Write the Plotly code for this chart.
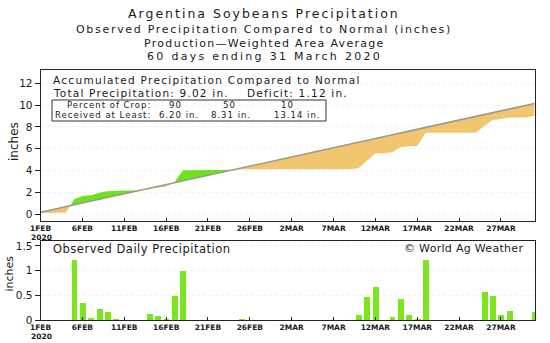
import plotly.graph_objects as go

W, H = 550, 343

# ---------------- data ----------------
days = list(range(60))  # 0 = 1 FEB 2020 ... 59 = 31 MAR 2020
tick_days = [0, 5, 10, 15, 20, 25, 30, 35, 40, 45, 50, 55]
tick_labels = ["1FEB", "6FEB", "11FEB", "16FEB", "21FEB", "26FEB",
               "2MAR", "7MAR", "12MAR", "17MAR", "22MAR", "27MAR"]
year_label = "2020"

normal_accum = [
    0.17, 0.34, 0.51, 0.68, 0.85, 1.02, 1.18, 1.35, 1.52, 1.69,
    1.86, 2.03, 2.20, 2.37, 2.54, 2.71, 2.87, 3.04, 3.21, 3.38,
    3.55, 3.72, 3.89, 4.06, 4.23, 4.40, 4.56, 4.73, 4.90, 5.07,
    5.24, 5.41, 5.58, 5.75, 5.92, 6.09, 6.25, 6.42, 6.59, 6.76,
    6.93, 7.10, 7.27, 7.44, 7.61, 7.78, 7.94, 8.11, 8.28, 8.45,
    8.62, 8.79, 8.96, 9.13, 9.30, 9.47, 9.63, 9.80, 9.97, 10.14]

obs_accum = [
    0.10, 0.10, 0.10, 0.12, 1.35, 1.65, 1.72, 1.95, 2.10, 2.15,
    2.16, 2.16, 2.17, 2.32, 2.42, 2.50, 2.95, 4.00, 4.02, 4.02,
    4.02, 4.02, 4.02, 4.02, 4.10, 4.10, 4.10, 4.10, 4.10, 4.10,
    4.10, 4.10, 4.10, 4.10, 4.10, 4.10, 4.10, 4.10, 4.22, 4.85,
    5.55, 5.57, 5.68, 6.12, 6.22, 6.25, 7.46, 7.47, 7.47, 7.47,
    7.47, 7.47, 7.47, 8.08, 8.62, 8.72, 8.86, 8.86, 8.86, 9.02]

daily_precip = [
    0.00, 0.00, 0.00, 0.00, 1.22, 0.35, 0.06, 0.23, 0.18, 0.04,
    0.00, 0.00, 0.00, 0.13, 0.09, 0.02, 0.50, 1.01, 0.00, 0.00,
    0.00, 0.00, 0.00, 0.00, 0.04, 0.00, 0.00, 0.00, 0.00, 0.00,
    0.00, 0.00, 0.00, 0.00, 0.00, 0.00, 0.00, 0.00, 0.11, 0.47,
    0.68, 0.00, 0.08, 0.44, 0.12, 0.03, 1.23, 0.01, 0.00, 0.00,
    0.00, 0.00, 0.00, 0.57, 0.49, 0.11, 0.19, 0.00, 0.00, 0.17]

crop_pct = ["90", "50", "10"]
crop_amt = ["6.20 in.", "8.31 in.", "13.14 in."]
total_precip = "9.02"
deficit = "1.12"

# ---------------- styling ----------------
FONT = "DejaVu Sans"
TXT = "#1a1a1a"
ORANGE = "#F2C66E"
GREEN = "#6EE31C"
BAR_GREEN = "#7BE61E"
NORMAL_LINE = "#9E9890"


def px(x):
    return x / W


def py(y):
    return 1 - y / H


def split_cross(x, a, b):
    xs, A, B = [x[0]], [a[0]], [b[0]]
    for i in range(1, len(x)):
        d0 = a[i - 1] - b[i - 1]
        d1 = a[i] - b[i]
        if d0 * d1 < 0:
            t = d0 / (d0 - d1)
            xc = x[i - 1] + t * (x[i] - x[i - 1])
            yc = b[i - 1] + t * (b[i] - b[i - 1])
            xs.append(xc); A.append(yc); B.append(yc)
        xs.append(x[i]); A.append(a[i]); B.append(b[i])
    return xs, A, B


xs, obs_s, nor_s = split_cross(days, obs_accum, normal_accum)
lower = [min(o, n) for o, n in zip(obs_s, nor_s)]
upper = [max(o, n) for o, n in zip(obs_s, nor_s)]

fig = go.Figure()
fig.add_trace(go.Scatter(x=xs, y=lower, mode="lines", line=dict(width=0),
                         hoverinfo="skip", showlegend=False, xaxis="x", yaxis="y"))
fig.add_trace(go.Scatter(x=xs, y=nor_s, mode="lines", line=dict(width=0),
                         fill="tonexty", fillcolor=ORANGE, showlegend=False,
                         xaxis="x", yaxis="y"))
fig.add_trace(go.Scatter(x=xs, y=upper, mode="lines", line=dict(width=0),
                         fill="tonexty", fillcolor=GREEN, showlegend=False,
                         xaxis="x", yaxis="y"))
fig.add_trace(go.Scatter(x=days, y=normal_accum, mode="lines",
                         line=dict(color=NORMAL_LINE, width=1.6),
                         showlegend=False, xaxis="x", yaxis="y"))

fig.add_trace(go.Bar(x=days, y=daily_precip, width=0.7,
                     marker=dict(color=BAR_GREEN, line=dict(width=0)),
                     showlegend=False, xaxis="x2", yaxis="y2"))

x_dom = [px(40.6), px(535)]
x_rng = [0, 59.07]
common_x = dict(range=x_rng, domain=x_dom, tickmode="array", tickvals=tick_days,
                ticktext=tick_labels, ticks="inside", ticklen=3, tickcolor="#222",
                showline=True, linecolor="#222", linewidth=1, mirror=True,
                showgrid=False, zeroline=False, automargin=False,
                tickfont=dict(family=FONT, size=7.5, color=TXT, weight="bold"))
common_y = dict(ticks="outside", ticklen=5, tickcolor="#222",
                showline=True, linecolor="#222", linewidth=1, mirror=True,
                showgrid=True, gridcolor="#F1F1F1", griddash="dot", zeroline=False,
                automargin=False,
                tickfont=dict(family=FONT, size=10.5, color=TXT))

fig.update_layout(
    template="none",
    width=W, height=H, margin=dict(l=0, r=0, t=0, b=0, pad=0),
    paper_bgcolor="white", plot_bgcolor="white",
    font=dict(family=FONT, color=TXT),
    xaxis=dict(anchor="y", **common_x),
    yaxis=dict(anchor="x", domain=[py(221), py(70)], range=[-0.64, 13.22],
               tickvals=[0, 2, 4, 6, 8, 10, 12], **common_y),
    xaxis2=dict(anchor="y2", **common_x),
    yaxis2=dict(anchor="x2", domain=[py(320), py(240.5)], range=[0, 1.61],
                tickvals=[0, 0.5, 1, 1.5], ticktext=["0", "0.5", "1", "1.5"], **common_y),
    bargap=0,
)

ann = []


def text(x, y, s, size, xanchor="center", angle=0, ls=0, weight="normal"):
    if ls:
        s = f'<span style="letter-spacing:{ls}px">{s}</span>'
    ann.append(dict(x=px(x), y=py(y), xref="paper", yref="paper", text=s,
                    showarrow=False, xanchor=xanchor, yanchor="middle",
                    borderpad=0, textangle=angle,
                    font=dict(family=FONT, size=size, color=TXT, weight=weight)))


# titles
text(264, 13.5, "Argentina Soybeans Precipitation", 12.5, ls=2.0)
text(264, 29.5, "Observed Precipitation Compared to Normal (inches)", 11, ls=1.7)
text(264, 43, "Production\u2014Weighted Area Average", 11, ls=1.3)
text(264, 56.5, "60 days ending 31 March 2020", 11, ls=2.3)

# top panel texts
text(52, 79.5, "Accumulated Precipitation Compared to Normal", 10.5, "left", ls=1.3)
text(52, 92.5, f"Total Precipitation: {total_precip} in.&nbsp;&nbsp;&nbsp;&nbsp;Deficit: {deficit} in.",
     10.5, "left", ls=1.2)
text(152, 105.5, "Percent of Crop:", 8.5, "right", ls=1)
text(152, 115, "Received at Least:", 8.5, "right", ls=1)
for cx, v in zip([175, 230, 287], crop_pct):
    text(cx, 105.5, v, 8.5, ls=1)
for cx, v in zip([179, 231, 297], crop_amt):
    text(cx, 115, v, 8.5, ls=1)

# bottom panel texts
text(52, 249, "Observed Daily Precipitation", 11.5, "left", ls=0.5)
text(524, 248.5, "\u00a9 World Ag Weather", 11, "right", ls=0.3)

# year under first tick labels
text(41, 237, year_label, 7.5, weight="bold")
text(41, 336, year_label, 7.5, weight="bold")

# y-axis titles
text(14, 142, "inches", 12, angle=-90)
text(9, 273.5, "inches", 11, angle=-90)

fig.update_layout(annotations=ann)

fig.add_shape(type="rect", xref="paper", yref="paper",
              x0=px(52), x1=px(326), y0=py(100), y1=py(121),
              line=dict(color="#333", width=1), fillcolor="rgba(0,0,0,0)")

fig.write_html("out.html")
